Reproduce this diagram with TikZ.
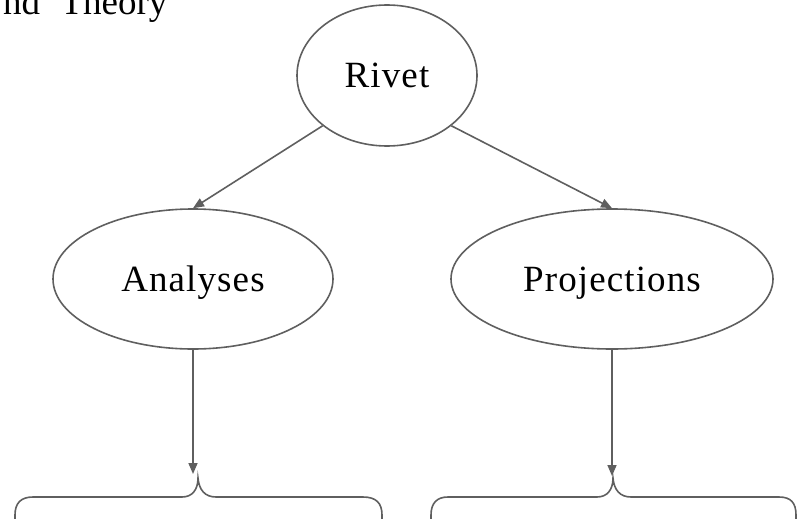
\documentclass[tikz,border=0pt]{standalone}
\usepackage{fontspec}
\setmainfont{Liberation Serif}
\usetikzlibrary{shapes.geometric,arrows.meta}
\definecolor{linegray}{HTML}{5F5F5F}
\tikzset{
  topic/.style={ellipse, draw=linegray, line width=1.6pt, inner sep=0pt, text depth=0pt,
    font=\fontsize{37}{42}\selectfont\addfontfeatures{LetterSpace=3}},
  link/.style={draw=linegray, line width=1.6pt, -{Triangle[length=11pt,width=9pt]}},
  bracket/.style={draw=linegray, line width=1.6pt}
}

\begin{document}
\begin{tikzpicture}[x=1pt,y=-1pt]
\clip (0,0) rectangle (808,519);

\node[anchor=base west, inner sep=0pt, font=\fontsize{37}{42}\selectfont] (title) at (3,15) {nd\hspace{0.55em}Theory};

\node[topic, minimum width=180pt, minimum height=141pt] (rivet) at (387,75.5) {Rivet};
\node[topic, minimum width=280pt, minimum height=140pt] (analyses) at (193,279) {Analyses};
\node[topic, minimum width=322pt, minimum height=140pt] (projections) at (612,279) {Projections};

\coordinate (lcusp) at (198,478);
\coordinate (rcusp) at (613,478);

\draw[link] (rivet.218) -- (analyses.north);
\draw[link] (rivet.322) -- (projections.north);
\draw[link, shorten >=4pt] (analyses.south) -- (analyses.south |- lcusp);
\draw[link, shorten >=2pt] (projections.south) -- (projections.south |- rcusp);

% braces under the two branches
\draw[bracket] (15,525) -- (15,515) .. controls (15,503) and (21,497) .. (33,497) -- (182,497)
  .. controls (192,497) and (198,490) .. (lcusp) .. controls (199,490) and (205,497) .. (216,497)
  -- (363,497) .. controls (376,497) and (382,503) .. (382,515) -- (382,525);
\draw[bracket] (431,525) -- (431,515) .. controls (431,503) and (437,497) .. (448,497) -- (597,497)
  .. controls (607,497) and (613,490) .. (rcusp) .. controls (614,490) and (620,497) .. (631,497)
  -- (779,497) .. controls (791,497) and (796,503) .. (796,515) -- (796,525);
\end{tikzpicture}
\end{document}
